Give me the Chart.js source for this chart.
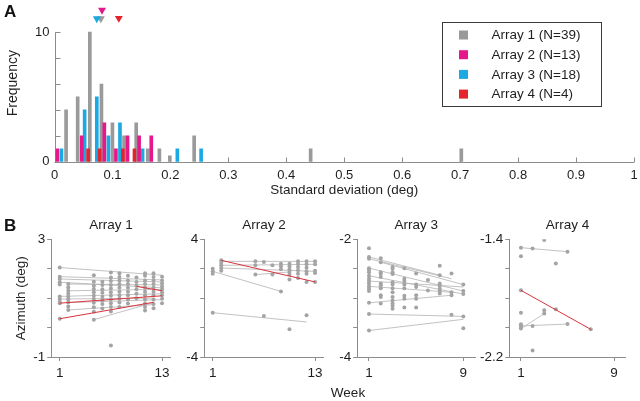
<!DOCTYPE html>
<html>
<head>
<meta charset="utf-8">
<script src="https://cdn.jsdelivr.net/npm/chart.js@4.4.0/dist/chart.umd.min.js"></script>
<style>
  html, body { margin: 0; padding: 0; background: #fff; }
  #wrap { position: relative; width: 640px; height: 401px; overflow: hidden; font-family: 'Liberation Sans', Arial, sans-serif; }
  canvas { position: absolute; }
  .panel { position: absolute; font-weight: bold; font-size: 17px; color: #111; }
  #week { position: absolute; left: 348px; top: 385px; transform: translateX(-50%); font-size: 13.5px; color: #222; }
</style>
</head>
<body>
<div id="wrap">
  <canvas id="hist" width="640" height="200" style="left:0;top:0;width:640px;height:200px"></canvas>
  <canvas id="b1" width="180" height="191" style="left:0;top:210px;width:180px;height:191px"></canvas>
  <canvas id="b2" width="160" height="191" style="left:170px;top:210px;width:160px;height:191px"></canvas>
  <canvas id="b3" width="160" height="191" style="left:320px;top:210px;width:160px;height:191px"></canvas>
  <canvas id="b4" width="170" height="191" style="left:470px;top:210px;width:170px;height:191px"></canvas>
  <div class="panel" style="left:4px;top:2px">A</div>
  <div class="panel" style="left:4px;top:216px">B</div>
  <div id="week">Week</div>
</div>
<script>
// ---- Panel A : histogram of SD per array, [sd, count]
const sdArray1 = [[0.020,4],[0.040,5],[0.061,10],[0.081,6],[0.100,3],[0.120,2],[0.141,3],[0.161,1],[0.181,1],[0.199,0.45],[0.241,2],[0.442,1],[0.702,1]];
const sdArray2 = [[0.005,1],[0.047,2],[0.086,3],[0.106,1],[0.126,2],[0.146,2],[0.167,2]];
const sdArray3 = [[0.012,1],[0.052,4],[0.073,5],[0.093,2],[0.113,3],[0.152,1],[0.212,1],[0.253,1]];
const sdArray4 = [[0.058,1],[0.078,1],[0.118,1],[0.138,1]];
const arrayLabels = ['Array 1 (N=39)', 'Array 2 (N=13)', 'Array 3 (N=18)', 'Array 4 (N=4)'];
// mean markers (triangles) above the histogram: [sd, height]
const meanMarks = [[0.080,11.05],[0.082,11.7],[0.073,11.05],[0.111,11.08]];
const sdTicks = [0,0.1,0.2,0.3,0.4,0.5,0.6,0.7,0.8,0.9,1];
const sdTickLabels = ['0','0.1','0.2','0.3','0.4','0.5','0.6','0.7','0.8','0.9','1'];
const freqTicks = [0,2,4,6,8,10];
const freqTickLabels = ['0','','','','','10'];

// ---- Panel B : azimuth per week, one list of values per recorded week
const a1Weeks = [1,2,5,6,7,8,9,10,11,12,13];
const a1Az = [
  [2.04,1.73,1.65,1.54,1.46,1.06,0.97,0.88,0.83,0.30],
  [1.48,1.36,1.25,1.15,1.05,0.95,0.85,0.72,0.60],
  [1.78,1.56,1.42,1.31,1.20,1.08,0.97,0.84,0.69,0.54,0.27],
  [1.56,1.45,1.30,1.18,1.05,0.93,0.80,0.65],
  [1.87,1.70,1.58,1.45,1.33,1.20,1.08,0.95,0.83,0.70,0.55,-0.61],
  [1.85,1.72,1.60,1.48,1.35,1.22,1.10,0.98,0.85,0.70],
  [1.76,1.60,1.48,1.35,1.22,1.10,0.95,0.82],
  [1.70,1.55,1.42,1.30,1.15,1.00],
  [1.85,1.76,1.60,1.48,1.35,1.22,1.10,0.95,0.82,0.70,0.58],
  [1.85,1.72,1.60,1.48,1.35,1.22,1.10,0.95,0.80,0.66],
  [1.73,1.60,1.50,1.40,1.30,1.20,1.10,0.98,0.83]
];
const a1Fits = [[1,2.04,13,1.78],[1,1.73,13,1.62],[1,1.65,13,1.55],[2,1.48,13,1.45],[1,1.54,13,1.35],[2,1.25,13,1.30],[1,1.06,13,1.15],[1,0.97,12,1.00],[2,0.85,13,0.95],[2,0.60,12,0.78],[5,0.27,12,0.85]];
const a1Red = [[1,0.83,13,1.08],[1,0.30,12,0.86],[10,1.40,13,1.25]];

const a2Weeks = [1,2,6,7,8,9,10,11,12,13];
const a2Az = [
  [2.00,1.82,1.66,-0.99],
  [2.57,2.41,2.23,2.05,1.87],
  [2.50,2.23,1.60],
  [2.46,-1.22],
  [2.23,1.60],
  [2.34,2.16,1.96,0.46],
  [2.34,2.16,1.96,1.78,1.60,1.26,-2.12],
  [2.50,2.32,2.12,1.89,1.66,1.37],
  [2.50,2.30,2.07,1.82,1.66,1.10,-1.17],
  [2.50,2.30,1.87,1.71,1.10]
];
const a2Fits = [[2,2.50,13,2.50],[2,2.23,13,2.30],[2,2.05,13,1.82],[1,1.82,9,0.46],[1,-0.99,12,-1.62],[6,1.60,10,1.78]];
const a2Red = [[2,2.57,13,1.10]];

const a3Weeks = [1,2,3,4,5,6,7,8,9];
const a3Az = [
  [-2.15,-2.30,-2.33,-2.49,-2.52,-2.56,-2.62,-2.67,-2.71,-2.75,-2.80,-2.84,-2.88,-3.08,-3.27,-3.55],
  [-2.32,-2.39,-2.56,-2.59,-2.64,-2.75,-2.78,-2.83,-2.95,-2.98,-3.09],
  [-2.47,-2.50,-2.56,-2.59,-2.73,-2.77,-2.83,-2.90,-2.98,-3.04,-3.09,-3.13,-3.18],
  [-2.49,-2.67,-2.71,-2.77,-2.83,-2.96,-3.01,-3.16],
  [-2.58,-2.77,-2.81,-2.95,-3.01,-3.16],
  [-2.69,-2.87],
  [-2.45,-2.61,-2.75,-2.79,-2.84,-2.88,-2.92],
  [-2.58,-2.90,-2.95,-3.28],
  [-2.77,-2.88,-2.93,-3.31,-3.51]
];
const a3Fits = [[1,-2.30,7,-2.61],[1,-2.33,8,-2.67],[2,-2.39,9,-2.77],[1,-2.49,9,-2.88],[1,-2.62,9,-2.93],[1,-2.71,9,-2.81],[1,-2.80,8,-2.90],[1,-3.08,8,-2.95],[1,-3.27,9,-3.31],[1,-3.55,9,-3.36]];
const a3Red = [];

const a4Weeks = [1,2,3,4,5,7];
const a4Az = [
  [-1.457,-1.516,-1.747,-1.900,-1.978,-1.991,-2.007],
  [-1.463,-1.989,-2.155],
  [-1.405,-1.883,-1.905],
  [-1.565,-1.876],
  [-1.484,-1.976],
  [-2.012]
];
const a4Fits = [[1,-1.457,5,-1.484],[1,-2.007,3,-1.905],[1,-1.989,5,-1.976]];
const a4Red = [[1,-1.747,7,-2.012]];

const FONT = "'Liberation Sans', Arial, sans-serif";
const textColor = '#1e1e1e';
const axisGray = '#8c8c8c';
const dotGray = '#a4a4a4';
const lineGray = '#b2b2b2';
const fitRed = '#d9323a';
const barColors = ['#9a9a9a', '#e6178b', '#1aa9e2', '#e4242b'];

// A: axis line + inward ticks, y axis only up to 10
const inwardAxes = {
  id: 'inwardAxes',
  beforeDatasetsDraw(chart) {
    const {ctx, chartArea: a, scales: {x, y}} = chart;
    const y0 = Math.round(y.getPixelForValue(0)) + 0.5;
    const yTop = y.getPixelForValue(10);
    const left = Math.round(a.left) + 0.5;
    ctx.save();
    ctx.strokeStyle = axisGray;
    ctx.lineWidth = 1;
    ctx.beginPath();
    ctx.moveTo(left, y0); ctx.lineTo(left, yTop);
    ctx.moveTo(a.left, y0); ctx.lineTo(a.right, y0);
    x.ticks.forEach(t => {
      const px = Math.round(x.getPixelForValue(t.value)) + 0.5;
      ctx.moveTo(px, y0); ctx.lineTo(px, y0 - 5);
    });
    y.ticks.forEach(t => {
      const py = Math.round(y.getPixelForValue(t.value)) + 0.5;
      ctx.moveTo(left, py); ctx.lineTo(left + 5, py);
    });
    ctx.stroke();
    ctx.restore();
  }
};

// A: boxed legend in the upper right
const boxLegend = {
  id: 'boxLegend',
  afterDraw(chart) {
    const ctx = chart.ctx;
    const sets = chart.data.datasets.filter(d => d.label);
    ctx.save();
    ctx.strokeStyle = '#3a3a3a';
    ctx.lineWidth = 1;
    ctx.strokeRect(442.5, 22.5, 159, 84);
    ctx.font = '13.5px ' + FONT;
    ctx.textBaseline = 'middle';
    sets.forEach((d, i) => {
      const cy = 35 + i * 19.7;
      ctx.fillStyle = d.backgroundColor;
      ctx.fillRect(459, cy - 4.5, 9, 9);
      ctx.fillStyle = textColor;
      ctx.fillText(d.label, 491.5, cy + 0.5);
    });
    ctx.restore();
  }
};

const toXY = arr => arr.map(p => ({x: p[0], y: p[1]}));

new Chart(document.getElementById('hist'), {
  type: 'bar',
  data: {
    datasets: [
      {label: arrayLabels[0], data: toXY(sdArray1), backgroundColor: barColors[0], order: 4},
      {label: arrayLabels[1], data: toXY(sdArray2), backgroundColor: barColors[1], order: 2},
      {label: arrayLabels[2], data: toXY(sdArray3), backgroundColor: barColors[2], order: 3},
      {label: arrayLabels[3], data: toXY(sdArray4), backgroundColor: barColors[3], order: 1},
      {
        type: 'scatter',
        data: toXY(meanMarks),
        pointStyle: 'triangle',
        rotation: 180,
        radius: 4.6,
        borderWidth: 0,
        backgroundColor: barColors,
        order: 0
      }
    ]
  },
  options: {
    responsive: false,
    animation: false,
    events: [],
    layout: {padding: {left: 0, right: 6, top: 0, bottom: 0}},
    datasets: {bar: {barThickness: 3, grouped: false}},
    plugins: {legend: {display: false}, tooltip: {enabled: false}},
    scales: {
      x: {
        type: 'linear',
        min: 0,
        max: 1,
        offset: false,
        grid: {display: false, drawTicks: false, tickLength: 0},
        border: {display: false},
        afterBuildTicks: s => { s.ticks = sdTicks.map(v => ({value: v})); },
        afterFit: s => { s.height = 38.3; s.paddingLeft = 0; s.paddingRight = 0; },
        ticks: {
          autoSkip: false, maxRotation: 0, padding: 5.5, color: textColor,
          font: {family: FONT, size: 13},
          callback: (v, i) => sdTickLabels[i]
        },
        title: {
          display: true, text: 'Standard deviation (deg)', color: textColor,
          font: {family: FONT, size: 13.5}, padding: {top: 0, bottom: 2}
        }
      },
      y: {
        min: 0,
        max: 12.13,
        grid: {display: false, drawTicks: false, tickLength: 0},
        border: {display: false},
        afterBuildTicks: s => { s.ticks = freqTicks.map(v => ({value: v})); },
        afterFit: s => { s.width = 54.5; s.paddingTop = 0; s.paddingBottom = 0; },
        ticks: {
          padding: 5, color: textColor,
          font: {family: FONT, size: 13},
          callback: (v, i) => freqTickLabels[i]
        },
        title: {
          display: true, text: 'Frequency', color: textColor,
          font: {family: FONT, size: 14}, padding: {top: 4.6, bottom: 0}
        }
      }
    }
  },
  plugins: [inwardAxes, boxLegend]
});

function makePanel(id, cfg) {
  const pts = cfg.weeks.flatMap((w, i) => cfg.az[i].map(v => ({x: w, y: v})));
  const seg = (f, color, width, order) => ({
    type: 'line',
    data: [{x: f[0], y: f[1]}, {x: f[2], y: f[3]}],
    borderColor: color,
    borderWidth: width,
    pointRadius: 0,
    order: order
  });
  const datasets = [
    {data: pts, backgroundColor: dotGray, pointRadius: 2, borderWidth: 0, order: 1},
    ...cfg.fits.map(f => seg(f, lineGray, 0.8, 2)),
    ...cfg.red.map(f => seg(f, fitRed, 1, 0))
  ];
  new Chart(document.getElementById(id), {
    type: 'scatter',
    data: {datasets},
    options: {
      responsive: false,
      animation: false,
      events: [],
      layout: {padding: {left: 0, right: cfg.padRight, top: 0, bottom: 0}},
      plugins: {
        legend: {display: false},
        tooltip: {enabled: false},
        title: {
          display: true, text: cfg.title, fullSize: false, color: textColor,
          font: {family: FONT, size: 13.5, weight: 'normal'},
          padding: {top: 6.9, bottom: 6.2}
        }
      },
      scales: {
        x: {
          type: 'linear',
          min: 0,
          max: cfg.xMax,
          grid: {drawOnChartArea: false, tickLength: 4, color: axisGray},
          border: {color: axisGray},
          afterBuildTicks: s => { s.ticks = cfg.xTicks.map(v => ({value: v})); },
          afterFit: s => { s.height = 44; s.paddingLeft = 0; s.paddingRight = 0; },
          ticks: {
            autoSkip: false, maxRotation: 0, padding: 4, color: textColor,
            font: {family: FONT, size: 13.5},
            callback: (v, i) => String(cfg.xTicks[i])
          }
        },
        y: {
          min: cfg.yTicks[0],
          max: cfg.yTicks[cfg.yTicks.length - 1],
          grid: {drawOnChartArea: false, tickLength: 4, color: axisGray},
          border: {color: axisGray},
          afterBuildTicks: s => { s.ticks = cfg.yTicks.map(v => ({value: v})); },
          afterFit: s => { s.width = cfg.yWidth; s.paddingTop = 0; s.paddingBottom = 0; },
          ticks: {
            padding: 2, color: textColor,
            font: {family: FONT, size: 13.5},
            callback: (v, i) => cfg.yLabels[i]
          },
          title: {
            display: !!cfg.yTitle, text: cfg.yTitle || '', color: textColor,
            font: {family: FONT, size: 13.5}, padding: {top: 13.6, bottom: 0}
          }
        }
      }
    }
  });
}

makePanel('b1', {
  title: 'Array 1', yTitle: 'Azimuth (deg)',
  weeks: a1Weeks, az: a1Az, fits: a1Fits, red: a1Red,
  xMax: 14, xTicks: [1, 13],
  yTicks: [-1, 0, 1, 2, 3], yLabels: ['-1', '', '', '', '3'],
  yWidth: 51.2, padRight: 9.4
});
makePanel('b2', {
  title: 'Array 2',
  weeks: a2Weeks, az: a2Az, fits: a2Fits, red: a2Red,
  xMax: 14, xTicks: [1, 13],
  yTicks: [-4, -2, 0, 2, 4], yLabels: ['-4', '', '', '', '4'],
  yWidth: 34.2, padRight: 6.4
});
makePanel('b3', {
  title: 'Array 3',
  weeks: a3Weeks, az: a3Az, fits: a3Fits, red: a3Red,
  xMax: 10, xTicks: [1, 9],
  yTicks: [-4, -3.5, -3, -2.5, -2], yLabels: ['-4', '', '', '', '-2'],
  yWidth: 37.2, padRight: 4.9
});
makePanel('b4', {
  title: 'Array 4',
  weeks: a4Weeks, az: a4Az, fits: a4Fits, red: a4Red,
  xMax: 10, xTicks: [1, 9],
  yTicks: [-2.2, -2.0, -1.8, -1.6, -1.4], yLabels: ['-2.2', '', '', '', '-1.4'],
  yWidth: 39.3, padRight: 14.3
});
</script>
</body>
</html>
